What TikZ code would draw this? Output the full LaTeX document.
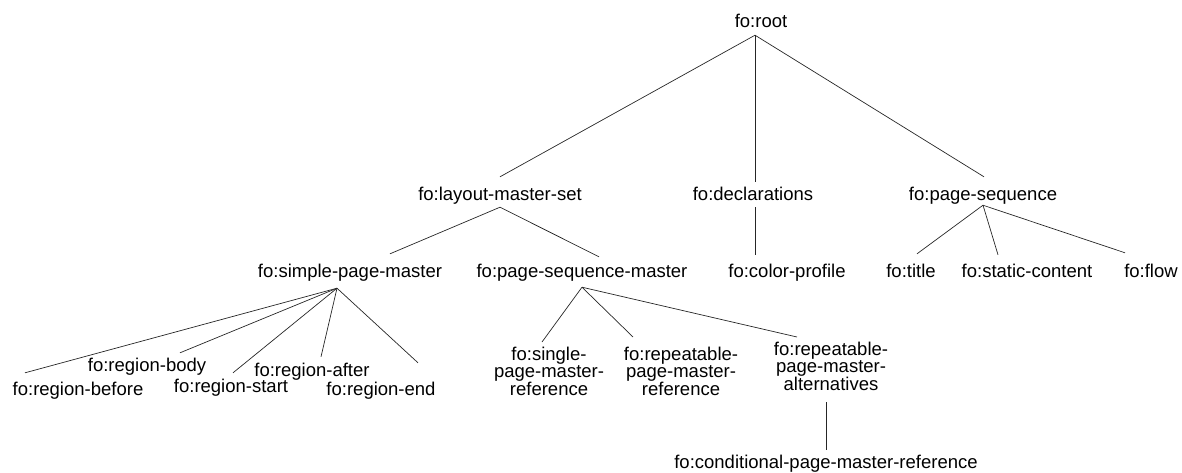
\documentclass[tikz,border=0pt]{standalone}
\usepackage{fontspec}
\setmainfont{Liberation Sans}
\tikzset{
  elem/.style={inner sep=0pt, text height=13.5pt, text depth=0pt, anchor=base},
  multielem/.style={inner sep=0pt, align=center, anchor=north},
  branch/.style={line width=0.7pt, black!85}
}
\begin{document}
\begin{tikzpicture}[x=1pt, y=-1pt, font=\fontsize{18.5}{17.5}\selectfont]
    \useasboundingbox (0,0) rectangle (1182,472);
    % level 0 and 1
    \node[elem] (root) at (761,27) {fo:root};
    \node[elem] (lms) at (500,200) {fo:layout-master-set};
    \node[elem] (decl) at (753,200) {fo:declarations};
    \node[elem] (ps) at (983,200) {fo:page-sequence};
    % level 2
    \node[elem] (spm) at (350,277) {fo:simple-page-master};
    \node[elem] (psm) at (582,277) {fo:page-sequence-master};
    \node[elem] (cp) at (787,277) {fo:color-profile};
    \node[elem] (title) at (911,277) {fo:title};
    \node[elem] (sc) at (1027,277) {fo:static-content};
    \node[elem] (flow) at (1151,277) {fo:flow};
    % regions
    \node[elem] (rbefore) at (78,395) {fo:region-before};
    \node[elem] (rbody) at (147,371) {fo:region-body};
    \node[elem] (rstart) at (231,392) {fo:region-start};
    \node[elem] (rafter) at (312,376) {fo:region-after};
    \node[elem] (rend) at (381,395) {fo:region-end};
    % page masters
    \node[multielem] (single) at (549,346.5) {fo:single-\\page-master-\\reference};
    \node[multielem] (repref) at (681,346.5) {fo:repeatable-\\page-master-\\reference};
    \node[multielem] (alt) at (831,341.5) {fo:repeatable-\\page-master-\\alternatives};
    \node[elem] (cond) at (826,468) {fo:conditional-page-master-reference};

    \draw[branch] ([shift={(-6,8)}]root.south) -- ([shift={(0,-9.5)}]lms.north);
    \draw[branch] ([shift={(-6,8)}]root.south) -- ([shift={(2,-4.5)}]decl.north);
    \draw[branch] ([shift={(-6,8)}]root.south) -- ([shift={(1,-9.5)}]ps.north);

    \draw[branch] ([shift={(0,7)}]lms.south) -- ([shift={(40,-9.5)}]spm.north);
    \draw[branch] ([shift={(0,7)}]lms.south) -- ([shift={(17,-6.5)}]psm.north);
    \draw[branch] ([shift={(2,7)}]decl.south) -- ([shift={(-32,-8.5)}]cp.north);
    \draw[branch] ([shift={(0,5)}]ps.south) -- ([shift={(6,-9.5)}]title.north);
    \draw[branch] ([shift={(0,5)}]ps.south) -- ([shift={(-29,-8.5)}]sc.north);
    \draw[branch] ([shift={(0,5)}]ps.south) -- ([shift={(-26,-10.5)}]flow.north);

    \draw[branch] ([shift={(-13,11)}]spm.south) -- ([shift={(-53,-8.5)}]rbefore.north);
    \draw[branch] ([shift={(-13,11)}]spm.south) -- ([shift={(33,-4.5)}]rbody.north);
    \draw[branch] ([shift={(-13,11)}]spm.south) -- ([shift={(2,-5.5)}]rstart.north);
    \draw[branch] ([shift={(-13,11)}]spm.south) -- ([shift={(9,-5.5)}]rafter.north);
    \draw[branch] ([shift={(-13,11)}]spm.south) -- ([shift={(37,-18.5)}]rend.north);

    \draw[branch] ([shift={(0,10)}]psm.south) -- ([shift={(-7,-4.5)}]single.north);
    \draw[branch] ([shift={(0,10)}]psm.south) -- ([shift={(-48,-9.5)}]repref.north);
    \draw[branch] ([shift={(0,10)}]psm.south) -- ([shift={(-34,-4.5)}]alt.north);
    \draw[branch] ([shift={(-5,60.5)}]alt.north) -- ([shift={(0,-4.5)}]cond.north);
\end{tikzpicture}
\end{document}
